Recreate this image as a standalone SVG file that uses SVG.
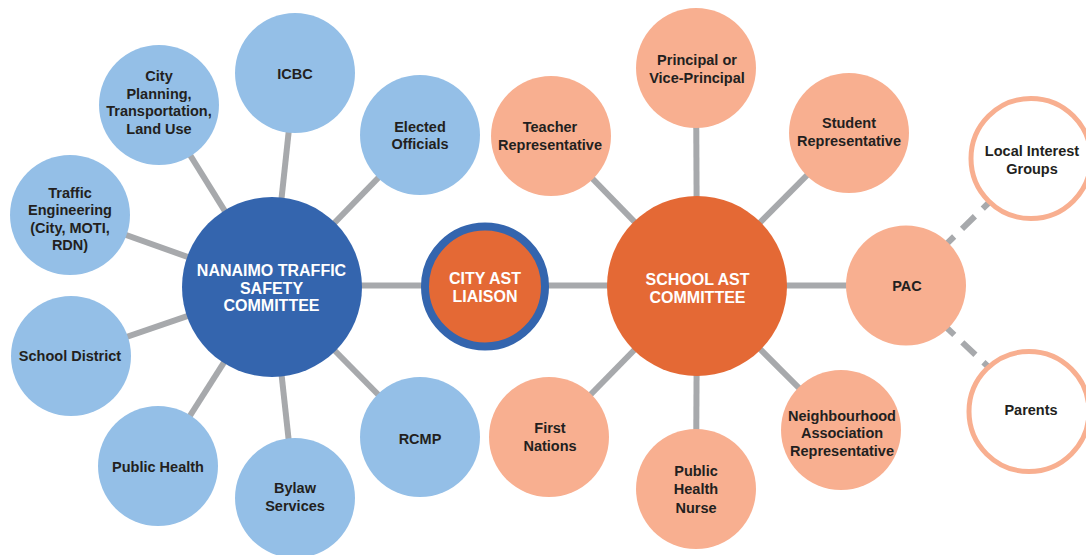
<svg xmlns="http://www.w3.org/2000/svg" width="1086" height="555" viewBox="0 0 1086 555">
<style>
.bg{fill:#ffffff}
.spoke{stroke:#a7a9ac;stroke-width:6;fill:none}
.dash{stroke:#a7a9ac;stroke-width:6;fill:none;stroke-dasharray:10 11 18 11 10 60}
.lb{fill:#94bfe7}
.db{fill:#3465ae}
.or{fill:#e46935}
.sa{fill:#f8af90}
.ring{fill:#ffffff;stroke:#f8af90;stroke-width:5}
.liaison{fill:#e46935;stroke:#3465ae;stroke-width:8}
text{font-family:"Liberation Sans",Arial,sans-serif;font-weight:bold;text-anchor:middle}
.t{fill:#231f20;font-size:14.5px}
.w{fill:#ffffff;font-size:16px}
</style>
<rect class="bg" x="0" y="0" width="1086" height="555"/>
<g id="connectors">
<line class="spoke" x1="272" y1="287" x2="159" y2="105"/>
<line class="spoke" x1="272" y1="287" x2="295" y2="73"/>
<line class="spoke" x1="272" y1="287" x2="420" y2="135"/>
<line class="spoke" x1="272" y1="287" x2="70" y2="215"/>
<line class="spoke" x1="272" y1="287" x2="71" y2="356"/>
<line class="spoke" x1="272" y1="287" x2="158" y2="466"/>
<line class="spoke" x1="272" y1="287" x2="295" y2="498"/>
<line class="spoke" x1="272" y1="287" x2="420" y2="437"/>
<line class="spoke" x1="272" y1="285.5" x2="697" y2="285.5"/>
<line class="spoke" x1="697" y1="286" x2="696" y2="68"/>
<line class="spoke" x1="697" y1="286" x2="551" y2="136"/>
<line class="spoke" x1="697" y1="286" x2="849" y2="133"/>
<line class="spoke" x1="697" y1="285.5" x2="906" y2="285.5"/>
<line class="spoke" x1="697" y1="286" x2="549" y2="437"/>
<line class="spoke" x1="697" y1="286" x2="696" y2="489"/>
<line class="spoke" x1="697" y1="286" x2="841" y2="430"/>
<line class="dash" x1="947" y1="243.5" x2="989" y2="202.5"/>
<line class="dash" x1="947" y1="328" x2="989" y2="367.5"/>
</g>
<g id="nanaimo-committee">
<circle class="db" cx="272" cy="287" r="90"/>
<text class="w" x="271.5" y="276">NANAIMO TRAFFIC</text>
<text class="w" x="271.5" y="293.5">SAFETY</text>
<text class="w" x="271.5" y="311">COMMITTEE</text>
</g>
<g id="city-planning">
<circle class="lb" cx="159" cy="105" r="60"/>
<text class="t" x="159" y="81">City</text>
<text class="t" x="159" y="98.5">Planning,</text>
<text class="t" x="159" y="116">Transportation,</text>
<text class="t" x="159" y="133.5">Land Use</text>
</g>
<g id="icbc">
<circle class="lb" cx="295" cy="73" r="60"/>
<text class="t" x="295" y="79">ICBC</text>
</g>
<g id="elected-officials">
<circle class="lb" cx="420" cy="135" r="60"/>
<text class="t" x="420" y="131.5">Elected</text>
<text class="t" x="420" y="149">Officials</text>
</g>
<g id="traffic-engineering">
<circle class="lb" cx="70" cy="215" r="60"/>
<text class="t" x="70" y="197.5">Traffic</text>
<text class="t" x="70" y="215">Engineering</text>
<text class="t" x="70" y="232.5">(City, MOTI,</text>
<text class="t" x="70" y="250">RDN)</text>
</g>
<g id="school-district">
<circle class="lb" cx="71" cy="356" r="60"/>
<text class="t" x="70" y="361">School District</text>
</g>
<g id="public-health">
<circle class="lb" cx="158" cy="466" r="60"/>
<text class="t" x="158" y="472">Public Health</text>
</g>
<g id="bylaw-services">
<circle class="lb" cx="295" cy="498" r="60"/>
<text class="t" x="295" y="493">Bylaw</text>
<text class="t" x="295" y="510.5">Services</text>
</g>
<g id="rcmp">
<circle class="lb" cx="420" cy="437" r="60"/>
<text class="t" x="420" y="444">RCMP</text>
</g>
<g id="city-ast-liaison">
<circle class="liaison" cx="485" cy="286.5" r="60"/>
<text class="w" x="485" y="284">CITY AST</text>
<text class="w" x="485" y="302">LIAISON</text>
</g>
<g id="school-ast-committee">
<circle class="or" cx="697" cy="286" r="90"/>
<text class="w" x="697.5" y="285">SCHOOL AST</text>
<text class="w" x="697.5" y="302.5">COMMITTEE</text>
</g>
<g id="principal">
<circle class="sa" cx="696" cy="68" r="60"/>
<text class="t" x="697" y="64.5">Principal or</text>
<text class="t" x="697" y="82.5">Vice-Principal</text>
</g>
<g id="teacher-representative">
<circle class="sa" cx="551" cy="136" r="60"/>
<text class="t" x="550" y="132">Teacher</text>
<text class="t" x="550" y="150">Representative</text>
</g>
<g id="student-representative">
<circle class="sa" cx="849" cy="133" r="60"/>
<text class="t" x="849" y="128">Student</text>
<text class="t" x="849" y="146">Representative</text>
</g>
<g id="pac">
<circle class="sa" cx="906" cy="285.5" r="60"/>
<text class="t" x="907" y="290.5">PAC</text>
</g>
<g id="first-nations">
<circle class="sa" cx="549" cy="437" r="60"/>
<text class="t" x="550" y="433">First</text>
<text class="t" x="550" y="450.5">Nations</text>
</g>
<g id="public-health-nurse">
<circle class="sa" cx="696" cy="489" r="60"/>
<text class="t" x="696" y="476">Public</text>
<text class="t" x="696" y="494">Health</text>
<text class="t" x="696" y="512.5">Nurse</text>
</g>
<g id="neighbourhood-association">
<circle class="sa" cx="841" cy="430" r="60"/>
<text class="t" x="842" y="420.5">Neighbourhood</text>
<text class="t" x="842" y="438">Association</text>
<text class="t" x="842" y="455.5">Representative</text>
</g>
<g id="local-interest-groups">
<circle class="ring" cx="1031" cy="158.5" r="60"/>
<text class="t" x="1032" y="156">Local Interest</text>
<text class="t" x="1032" y="174">Groups</text>
</g>
<g id="parents">
<circle class="ring" cx="1029" cy="411.5" r="60"/>
<text class="t" x="1031" y="415">Parents</text>
</g>
</svg>
